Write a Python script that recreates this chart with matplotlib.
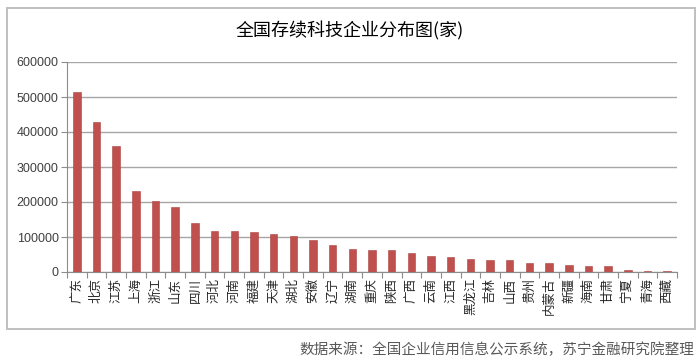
import matplotlib
matplotlib.use("Agg")
import matplotlib.pyplot as plt
from matplotlib.patches import Rectangle
import numpy as np

plt.rcParams['font.family'] = ['Noto Sans CJK SC', 'DejaVu Sans']

title = "全国存续科技企业分布图(家)"
source = "数据来源：全国企业信用信息公示系统，苏宁金融研究院整理"

provinces = ["广东", "北京", "江苏", "上海", "浙江", "山东", "四川", "河北", "河南", "福建",
             "天津", "湖北", "安徽", "辽宁", "湖南", "重庆", "陕西", "广西", "云南", "江西",
             "黑龙江", "吉林", "山西", "贵州", "内蒙古", "新疆", "海南", "甘肃", "宁夏", "青海", "西藏"]
counts = [515000, 430000, 361000, 231000, 204000, 187000, 139000, 118000, 116000, 113000,
          109000, 102000, 91000, 78000, 67000, 64000, 62000, 53500, 45000, 42000,
          38000, 33000, 33000, 27000, 24500, 20000, 16000, 16000, 7000, 3000, 2500]
yticks = [0, 100000, 200000, 300000, 400000, 500000, 600000]

fig = plt.figure(figsize=(7.0, 3.63), dpi=100)
fig.patch.set_facecolor("white")

# outer frame
fig.patches.append(Rectangle((7/700, 1 - 329/363), (695-7)/700, (329-8)/363,
                             transform=fig.transFigure, fill=False,
                             edgecolor="#BFBFBF", linewidth=1.4))

ax = fig.add_axes([67/700, 1 - 272/363, (677-67)/700, (272-62)/363])
x = np.arange(len(provinces))
ax.bar(x, counts, width=0.38, color="#C0504D", edgecolor="#A94442", linewidth=0.4, zorder=3)

ax.set_xlim(-0.5, len(provinces) - 0.5)
ax.set_ylim(0, 600000)
ax.set_yticks(yticks)
ax.set_yticklabels([str(v) for v in yticks], fontsize=9, color="#404040",
                   family=['Liberation Sans', 'DejaVu Sans'])
ax.yaxis.grid(True, color="#A6A6A6", linewidth=1.0, zorder=0)
ax.set_axisbelow(True)

ax.set_xticks(x)
ax.set_xticklabels(provinces, rotation=90, fontsize=9, color="#262626",
                   ha="center", va="top")
ax.tick_params(axis="x", which="major", length=0, pad=4)
ax.set_xticks(np.arange(-0.5, len(provinces), 1.0), minor=True)
ax.tick_params(axis="x", which="minor", length=4, color="#8C8C8C", width=0.8)
ax.tick_params(axis="y", length=4, color="#8C8C8C", width=0.8, pad=2)

for s in ["top", "right"]:
    ax.spines[s].set_visible(False)
ax.spines["left"].set_color("#8C8C8C")
ax.spines["bottom"].set_color("#8C8C8C")

fig.text(0.5, 1 - 31/363, title, ha="center", va="center", fontsize=13,
         color="#000000", fontweight="medium")
fig.text(694/700, 1 - 350/363, source, ha="right", va="center", fontsize=10.5,
         color="#595959")

fig.savefig("out.png", dpi=100, facecolor="white")
